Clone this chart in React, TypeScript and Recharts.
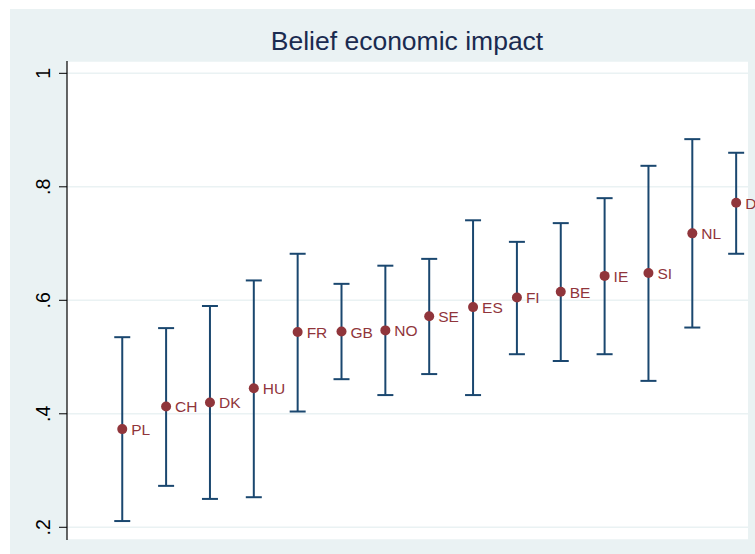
import React from 'react';
import { ComposedChart, Scatter, ErrorBar, XAxis, YAxis, CartesianGrid } from 'recharts';

// values
const countries = ['PL', 'CH', 'DK', 'HU', 'FR', 'GB', 'NO', 'SE', 'ES', 'FI', 'BE', 'IE', 'SI', 'NL', 'D'];
const means = [0.373, 0.413, 0.42, 0.445, 0.544, 0.545, 0.547, 0.572, 0.588, 0.605, 0.615, 0.643, 0.648, 0.718, 0.772];
const lowerBounds = [0.211, 0.273, 0.25, 0.253, 0.404, 0.461, 0.433, 0.47, 0.433, 0.505, 0.493, 0.505, 0.458, 0.552, 0.682];
const upperBounds = [0.535, 0.551, 0.59, 0.635, 0.682, 0.629, 0.661, 0.673, 0.741, 0.703, 0.736, 0.78, 0.837, 0.884, 0.86];
const yTicks = [0.2, 0.4, 0.6, 0.8, 1];
const yTickLabels = ['.2', '.4', '.6', '.8', '1'];

const NAVY = '#1a476f';
const MAROON = '#90353b';
const BG = '#eaf2f3';
const FONT = '"Liberation Sans", Arial, sans-serif';

const data = countries.map((name, i) => ({
  pos: i + 1,
  name,
  mean: means[i],
  err: [means[i] - lowerBounds[i], upperBounds[i] - means[i]],
}));

const YTick = (props: any) => {
  const { y, payload } = props;
  const idx = yTicks.indexOf(payload.value);
  const label = idx >= 0 ? yTickLabels[idx] : String(payload.value);
  return (
    <text
      x={50}
      y={y}
      transform={`rotate(-90, 50, ${y})`}
      textAnchor="middle"
      fontSize={19.5}
      fontFamily={FONT}
      fill="#000"
    >
      {label}
    </text>
  );
};

const PointShape = (props: any) => {
  const { cx, cy, payload } = props;
  return (
    <g>
      <circle cx={cx} cy={cy} r={5} fill={MAROON} />
      <text x={cx + 9} y={cy + 6} fontSize={15.5} fontFamily={FONT} fill={MAROON}>
        {payload.name}
      </text>
    </g>
  );
};

const Nothing = () => <g />;

export default function App() {
  return (
    <div style={{ position: 'absolute', left: 0, top: 0, width: 755, height: 554, background: '#fff', overflow: 'hidden' }}>
      <div style={{ position: 'absolute', left: 10, top: 9, right: 0, bottom: 0, background: BG }} />
      <div
        style={{
          position: 'absolute',
          left: 0,
          width: 814,
          top: 28,
          textAlign: 'center',
          fontFamily: FONT,
          fontSize: 26.5,
          lineHeight: '26px',
          color: '#1a2b50',
          zIndex: 2,
        }}
      >
        Belief economic impact
      </div>
      <div style={{ position: 'absolute', left: 0, top: 0 }}>
        <ComposedChart width={755} height={554} data={data} margin={{ top: 61, right: 7, bottom: 14, left: 0 }}>
          <CartesianGrid vertical={false} stroke={BG} strokeWidth={1.5} fill="#fff" />
          <XAxis type="number" dataKey="pos" domain={[-0.26, 15.27]} hide />
          <YAxis
            type="number"
            width={67}
            domain={[0.1776, 1.0217]}
            ticks={yTicks}
            interval={0}
            tick={<YTick />}
            tickSize={8}
            axisLine={{ stroke: '#000', strokeWidth: 1.2 }}
            tickLine={{ stroke: '#000', strokeWidth: 1 }}
          />
          <Scatter dataKey="mean" shape={<Nothing />} isAnimationActive={false}>
            <ErrorBar dataKey="err" direction="y" width={8} stroke={NAVY} strokeWidth={2} isAnimationActive={false} />
          </Scatter>
          <Scatter dataKey="mean" shape={<PointShape />} isAnimationActive={false} />
        </ComposedChart>
      </div>
    </div>
  );
}
